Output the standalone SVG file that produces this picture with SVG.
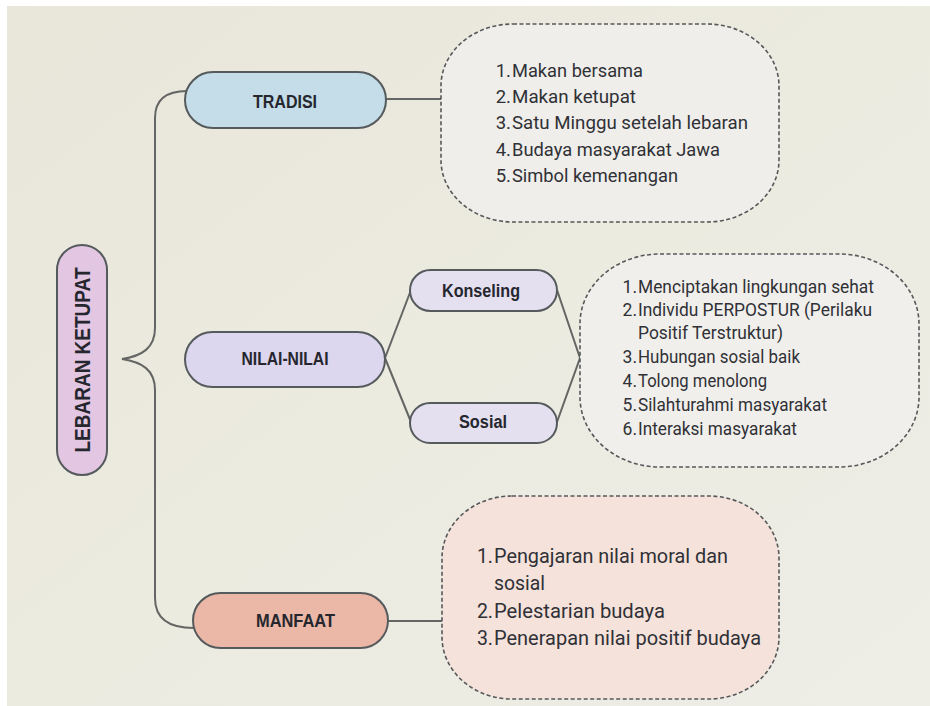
<svg xmlns="http://www.w3.org/2000/svg" width="930" height="706" viewBox="0 0 930 706">
<defs>
<linearGradient id="paper" x1="0" y1="0" x2="1" y2="1">
<stop offset="0" stop-color="#e9e6da"/>
<stop offset="0.5" stop-color="#ecebe0"/>
<stop offset="1" stop-color="#eeede6"/>
</linearGradient>
<style>
.pill{stroke:#555a5c;stroke-width:2}
.lbl{font-family:"Liberation Sans",Arial,sans-serif;font-weight:bold;fill:#26272e;text-anchor:middle}
.bub{stroke:#56585a;stroke-width:1.6;stroke-dasharray:4 2.5}
.it{font-family:Roboto,"Liberation Sans",sans-serif;fill:#303136}
.num{text-anchor:end}
.con{fill:none;stroke:#646664;stroke-width:2}
</style>
</defs>
<rect width="930" height="706" fill="#ffffff"/>
<rect x="7" y="6" width="923" height="700" fill="url(#paper)"/>

<g id="connectors">
<path class="con" d="M187,91 C168,91 155,98 155,118 L155,328 C155,348 142,356 122,359 C142,362 155,370 155,390 L155,598 C155,618 168,628 194,628"/>
<path class="con" d="M386,99 H441"/>
<path class="con" d="M388,621 H442"/>
<path class="con" d="M385,358 L411,290 M385,358 L411,422"/>
<path class="con" d="M557,290 L580,358 L557,422"/>
</g>

<g id="root">
<rect class="pill" x="57" y="245" width="50" height="230" rx="25" fill="#e2c6e2"/>
<text class="lbl" transform="translate(90,360) rotate(-90)" font-size="22" textLength="185" lengthAdjust="spacingAndGlyphs">LEBARAN KETUPAT</text>
</g>

<g id="tradisi">
<rect class="pill" x="185" y="72" width="201" height="56" rx="28" fill="#c4dde9"/>
<text class="lbl" x="285" y="108" font-size="18" textLength="64" lengthAdjust="spacingAndGlyphs">TRADISI</text>
</g>

<g id="nilai">
<rect class="pill" x="185" y="332" width="200" height="55" rx="27.5" fill="#dcd6ee"/>
<text class="lbl" x="285" y="365" font-size="18" textLength="87" lengthAdjust="spacingAndGlyphs">NILAI-NILAI</text>
</g>

<g id="manfaat">
<rect class="pill" x="193" y="593" width="195" height="55" rx="27.5" fill="#ebb7a7"/>
<text class="lbl" x="295.5" y="627" font-size="18" textLength="79" lengthAdjust="spacingAndGlyphs">MANFAAT</text>
</g>

<g id="konseling">
<rect class="pill" x="410" y="270" width="147" height="41" rx="20.5" fill="#e4e0f0"/>
<text class="lbl" x="481" y="297" font-size="18" textLength="78" lengthAdjust="spacingAndGlyphs">Konseling</text>
</g>

<g id="sosial">
<rect class="pill" x="410" y="403" width="147" height="40" rx="20" fill="#e4e0f0"/>
<text class="lbl" x="483" y="428" font-size="18" textLength="48" lengthAdjust="spacingAndGlyphs">Sosial</text>
</g>

<g id="tradisi-list">
<rect class="bub" x="441" y="24" width="338" height="198" rx="72" ry="62" fill="#efeeea"/>
<g class="it" font-size="18.5">
<text class="num" x="511" y="77">1.</text><text x="512" y="77" textLength="131" lengthAdjust="spacingAndGlyphs">Makan bersama</text>
<text class="num" x="511" y="103">2.</text><text x="512" y="103" textLength="124" lengthAdjust="spacingAndGlyphs">Makan ketupat</text>
<text class="num" x="511" y="129">3.</text><text x="512" y="129" textLength="236" lengthAdjust="spacingAndGlyphs">Satu Minggu setelah lebaran</text>
<text class="num" x="511" y="156">4.</text><text x="512" y="156" textLength="208" lengthAdjust="spacingAndGlyphs">Budaya masyarakat Jawa</text>
<text class="num" x="511" y="182">5.</text><text x="512" y="182" textLength="166" lengthAdjust="spacingAndGlyphs">Simbol kemenangan</text>
</g>
</g>

<g id="nilai-list">
<rect class="bub" x="580" y="254" width="339" height="213" rx="80" ry="70" fill="#f0efec"/>
<g class="it" font-size="17.5">
<text class="num" x="637" y="293">1.</text><text x="638" y="293" textLength="236" lengthAdjust="spacingAndGlyphs">Menciptakan lingkungan sehat</text>
<text class="num" x="637" y="316">2.</text><text x="638" y="316" textLength="234" lengthAdjust="spacingAndGlyphs">Individu PERPOSTUR (Perilaku</text>
<text x="638" y="339" textLength="145" lengthAdjust="spacingAndGlyphs">Positif Terstruktur)</text>
<text class="num" x="637" y="363">3.</text><text x="638" y="363" textLength="162" lengthAdjust="spacingAndGlyphs">Hubungan sosial baik</text>
<text class="num" x="637" y="387">4.</text><text x="638" y="387" textLength="129" lengthAdjust="spacingAndGlyphs">Tolong menolong</text>
<text class="num" x="637" y="411">5.</text><text x="638" y="411" textLength="189" lengthAdjust="spacingAndGlyphs">Silahturahmi masyarakat</text>
<text class="num" x="637" y="435">6.</text><text x="638" y="435" textLength="159" lengthAdjust="spacingAndGlyphs">Interaksi masyarakat</text>
</g>
</g>

<g id="manfaat-list">
<rect class="bub" x="442" y="496" width="337" height="203" rx="70" ry="62" fill="#f4e2db"/>
<g class="it" font-size="19.5">
<text class="num" x="493" y="563">1.</text><text x="494" y="563" textLength="234" lengthAdjust="spacingAndGlyphs">Pengajaran nilai moral dan</text>
<text x="494" y="590" textLength="51" lengthAdjust="spacingAndGlyphs">sosial</text>
<text class="num" x="493" y="618">2.</text><text x="494" y="618" textLength="171" lengthAdjust="spacingAndGlyphs">Pelestarian budaya</text>
<text class="num" x="493" y="645">3.</text><text x="494" y="645" textLength="267" lengthAdjust="spacingAndGlyphs">Penerapan nilai positif budaya</text>
</g>
</g>
</svg>
